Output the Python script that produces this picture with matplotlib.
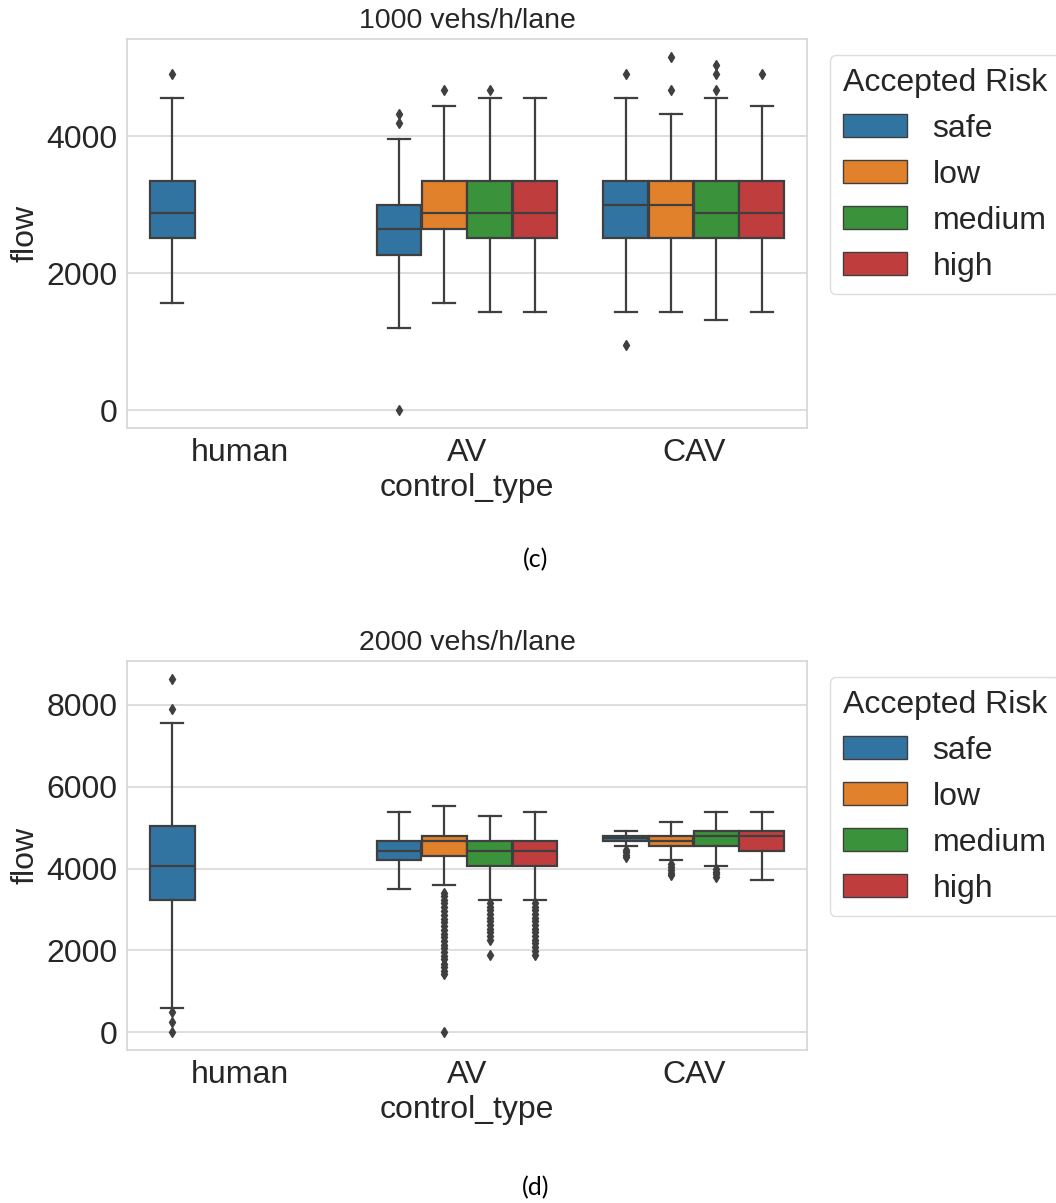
import numpy as np
import matplotlib
matplotlib.use('Agg')
import matplotlib.pyplot as plt
from matplotlib.patches import Patch

plt.rcParams['font.family'] = ['Liberation Sans', 'DejaVu Sans']
plt.rcParams['text.color'] = '#262626'
plt.rcParams['axes.labelcolor'] = '#262626'
plt.rcParams['xtick.color'] = '#262626'
plt.rcParams['ytick.color'] = '#262626'

control_types = ['human', 'AV', 'CAV']
risk_levels = ['safe', 'low', 'medium', 'high']
risk_colors = ['#3274a1', '#e1812c', '#3a923a', '#c03d3e']

# box stats per (control_type, risk): whislo, q1, med, q3, whishi, fliers
# 1000 vehs/h/lane
c_human = [(1560, 2510, 2880, 3350, 4560, [4910])]
c_av = [
    (1200, 2270, 2640, 3000, 3960, [4320, 4190, 0]),
    (1560, 2640, 2880, 3350, 4440, [4670]),
    (1440, 2510, 2880, 3350, 4560, [4670]),
    (1440, 2510, 2880, 3350, 4560, []),
]
c_cav = [
    (1440, 2510, 3000, 3350, 4560, [4910, 960]),
    (1440, 2510, 3000, 3350, 4320, [5160, 4670]),
    (1320, 2510, 2880, 3350, 4560, [5040, 4910, 4670]),
    (1440, 2510, 2880, 3350, 4440, [4910]),
]

# 2000 vehs/h/lane
d_human = [(600, 3240, 4070, 5050, 7560, [8640, 7910, 490, 240, 0])]
d_av = [
    (3490, 4200, 4440, 4680, 5390, []),
    (3600, 4320, 4680, 4800, 5520, [3410, 3320, 3230, 3150, 3060, 2960, 2870, 2780,
                                    2690, 2600, 2500, 2410, 2320, 2230, 2140, 2050,
                                    1960, 1870, 1780, 1680, 1590, 1500, 1420, 0]),
    (3240, 4070, 4440, 4670, 5280, [3160, 3070, 2980, 2890, 2800, 2710, 2620,
                                    2530, 2440, 2350, 2260, 1900]),
    (3240, 4070, 4440, 4670, 5390, [3160, 3070, 2980, 2890, 2800, 2710, 2620,
                                    2530, 2440, 2350, 2260, 2170, 2080, 1990, 1900]),
]
d_cav = [
    (4560, 4670, 4740, 4800, 4910, [4460, 4400, 4340, 4290]),
    (4200, 4560, 4680, 4800, 5150, [4110, 4040, 3970, 3900, 3840]),
    (4070, 4560, 4800, 4910, 5390, [3980, 3920, 3860, 3800]),
    (3720, 4420, 4790, 4910, 5390, []),
]

LINE = '#3f3f3f'


def draw_panel(ax, groups, title, yticks):
    width = 0.8 / len(risk_levels)
    for i, group in enumerate(groups):
        for j, row in enumerate(group):
            lo, q1, med, q3, hi, fl = row
            pos = i - 0.4 + width * (j + 0.5)
            stats = [dict(whislo=lo, q1=q1, med=med, q3=q3, whishi=hi, fliers=fl)]
            ax.bxp(stats, positions=[pos], widths=[width * 0.98], patch_artist=True,
                   manage_ticks=False,
                   boxprops=dict(facecolor=risk_colors[j], edgecolor=LINE, linewidth=1.6),
                   medianprops=dict(color=LINE, linewidth=1.6),
                   whiskerprops=dict(color=LINE, linewidth=1.6),
                   capprops=dict(color=LINE, linewidth=1.6),
                   flierprops=dict(marker='d', markerfacecolor=LINE,
                                   markeredgecolor=LINE, markersize=5.5))
    ax.set_xlim(-0.5, 2.5)
    ax.set_xticks(range(len(control_types)))
    ax.set_xticklabels(control_types)
    ax.set_yticks(yticks)
    ax.yaxis.grid(True, color='#d5d5d5', linewidth=1.1)
    ax.xaxis.grid(False)
    ax.set_axisbelow(True)
    for s in ax.spines.values():
        s.set_color('#d5d5d5')
        s.set_linewidth(1.2)
    ax.tick_params(length=0, labelsize=23, pad=7)
    ax.set_xlabel('control_type', fontsize=23, labelpad=4)
    ax.set_ylabel('flow', fontsize=23)
    ax.set_title(title, fontsize=20.5, pad=8)
    handles = [Patch(facecolor=c, edgecolor=LINE, linewidth=1) for c in risk_colors]
    leg = ax.legend(handles, risk_levels, title='Accepted Risk', fontsize=23,
                    title_fontsize=23, loc='upper left', bbox_to_anchor=(1.01, 1))
    leg.get_frame().set_edgecolor('#d5d5d5')


fig = plt.figure(figsize=(10.56, 12.03), dpi=100)
ax1 = fig.add_axes([0.1203, 0.6442, 0.6439, 0.3234])
ax2 = fig.add_axes([0.1203, 0.1272, 0.6439, 0.3233])

draw_panel(ax1, [c_human, c_av, c_cav], '1000 vehs/h/lane', [0, 2000, 4000])
draw_panel(ax2, [d_human, d_av, d_cav], '2000 vehs/h/lane', [0, 2000, 4000, 6000, 8000])

fig.text(0.507, 1 - 560 / 1203, '(c)', family='Lato', fontsize=18, ha='center', va='center',
         color='black')
fig.text(0.507, 1 - 1188 / 1203, '(d)', family='Lato', fontsize=18, ha='center', va='center',
         color='black')

plt.savefig('out.png', dpi=100)
